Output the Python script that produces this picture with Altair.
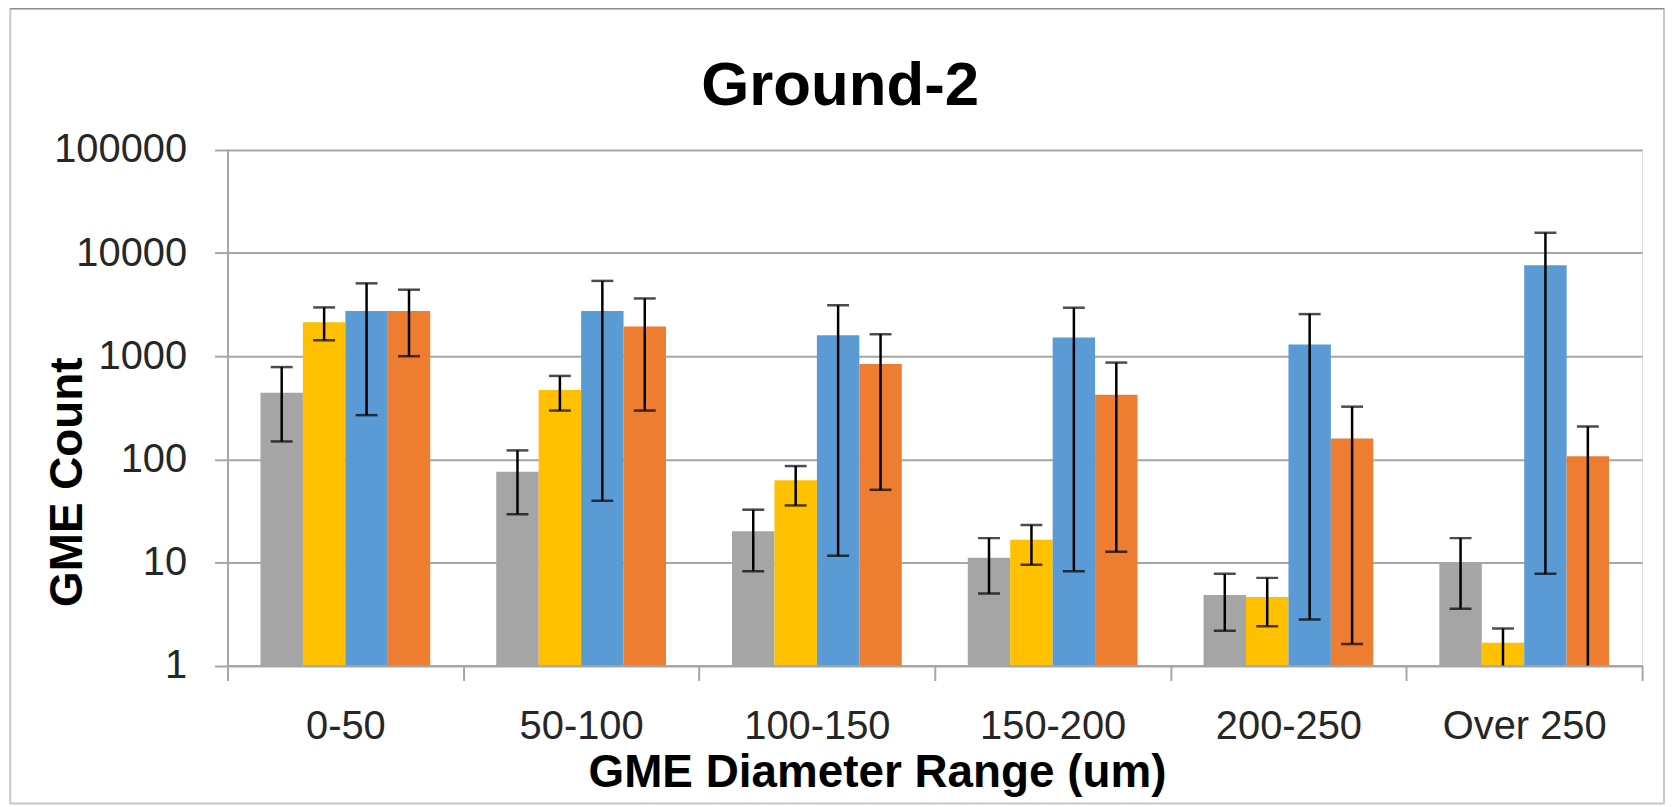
import altair as alt
import pandas as pd

categories = ["0-50", "50-100", "100-150", "150-200", "200-250", "Over 250"]
series = ["Series 1", "Series 2", "Series 3", "Series 4"]
colors = ["#a5a5a5", "#ffc000", "#5b9bd5", "#ed7d31"]

gray = [441, 75.6, 20.1, 11.1, 4.84, 10.0]
gray_hi = [784, 122, 32.5, 17.2, 7.78, 17.2]
gray_lo = [149, 29.3, 8.2, 5.0, 2.17, 3.56]

yellow = [2133, 469, 62.6, 16.6, 4.62, 1.66]
yellow_hi = [2972, 644, 86, 23, 7.08, 2.29]
yellow_lo = [1427, 297, 35.7, 9.5, 2.40, 0.8]

blue = [2750, 2750, 1595, 1521, 1297, 7620]
blue_hi = [5090, 5375, 3118, 2952, 2560, 15770]
blue_lo = [268, 39.6, 11.6, 8.2, 2.79, 7.78]

orange = [2750, 1942, 841, 423, 159, 107]
orange_hi = [4415, 3630, 1633, 867, 324, 208]
orange_lo = [1000, 297, 50.6, 12.7, 1.62, 0.5]

y_ticks = [1, 10, 100, 1000, 10000, 100000]
axis_base = 1  # log axis starts at 1; bars grow from here

rows = []
for s, vals, los, his in zip(series,
                             [gray, yellow, blue, orange],
                             [gray_lo, yellow_lo, blue_lo, orange_lo],
                             [gray_hi, yellow_hi, blue_hi, orange_hi]):
    for c, v, lo, hi in zip(categories, vals, los, his):
        rows.append({"cat": c, "series": s, "value": v, "lo": lo, "hi": hi,
                     "base": axis_base})
df = pd.DataFrame(rows)

FONT = "Liberation Sans"
GRID = "#a6a6a6"
W, H = 1420, 517.5

x_axis = alt.Axis(
    labelAngle=0, labelFont=FONT, labelFontSize=40, labelColor="#262626",
    labelBaseline="alphabetic", labelPadding=58,
    tickBand="extent", tickSize=15, tickColor=GRID, tickWidth=2,
    domainColor=GRID, domainWidth=2, grid=False,
    title="GME Diameter Range (um)", titleFont=FONT, titleFontSize=46,
    titleFontWeight="bold", titleColor="black",
    titleX=652, titleY=121, titleAlign="center", titleBaseline="alphabetic",
)
y_axis = alt.Axis(
    values=y_ticks, format="d", labelFont=FONT, labelFontSize=40,
    labelColor="#262626", labelPadding=28,
    tickSize=13, tickColor=GRID, tickWidth=2,
    domainColor=GRID, domainWidth=2,
    grid=True, gridColor=GRID, gridWidth=2,
    title="GME Count", titleFont=FONT, titleFontSize=46, titleFontWeight="bold",
    titleColor="black", titleAngle=270, titleX=-147, titleY=333,
    titleAlign="center", titleBaseline="alphabetic",
)

x_enc = alt.X("cat:N", sort=categories,
              scale=alt.Scale(paddingInner=0, paddingOuter=0), axis=x_axis)
xo_enc = alt.XOffset("series:N", sort=series,
                     scale=alt.Scale(paddingInner=0, paddingOuter=0.778))
y_scale = alt.Scale(type="log", domain=[1, 100000], nice=False)

bars = alt.Chart(df).mark_bar(clip=True).encode(
    x=x_enc, xOffset=xo_enc,
    y=alt.Y("value:Q", scale=y_scale, axis=y_axis, stack=None),
    y2=alt.Y2("base:Q"),
    color=alt.Color("series:N", sort=series,
                    scale=alt.Scale(domain=series, range=colors), legend=None),
)

rules = alt.Chart(df).mark_rule(color="black", strokeWidth=2.5, clip=True).encode(
    x=x_enc, xOffset=xo_enc,
    y=alt.Y("lo:Q", scale=y_scale, axis=y_axis),
    y2="hi:Q",
)
caps_hi = alt.Chart(df).mark_tick(color="black", thickness=2.5, size=22, clip=True).encode(
    x=x_enc, xOffset=xo_enc,
    y=alt.Y("hi:Q", scale=y_scale, axis=y_axis),
)
caps_lo = alt.Chart(df).mark_tick(color="black", thickness=2.5, size=22, clip=True).encode(
    x=x_enc, xOffset=xo_enc,
    y=alt.Y("lo:Q", scale=y_scale, axis=y_axis),
)

frame_df = pd.DataFrame({"k": [0]})
frame = alt.Chart(frame_df).mark_rect(fillOpacity=0, stroke="#c8c8c8", strokeWidth=2).encode(
    x=alt.value(-218), x2=alt.value(1442), y=alt.value(-143), y2=alt.value(656),
)
frame_top = alt.Chart(frame_df).mark_rule(color="#8c8c8c", strokeWidth=4).encode(
    x=alt.value(-218), x2=alt.value(1442), y=alt.value(-143),
)

chart = alt.layer(frame, frame_top, bars, rules, caps_hi, caps_lo).properties(
    width=W, height=H,
    autosize=alt.AutoSizeParams(type="none"),
    padding={"left": 220.3, "top": 141, "right": 25, "bottom": 140.5},
    title=alt.Title("Ground-2", font=FONT, fontSize=62, fontWeight="bold",
                    color="black", anchor="middle", dx=-95, baseline="alphabetic",
                    offset=0, dy=162),
).configure_view(strokeWidth=0).configure(background="white")

chart.save("out.html", embed_options={"renderer": "svg", "actions": False})
